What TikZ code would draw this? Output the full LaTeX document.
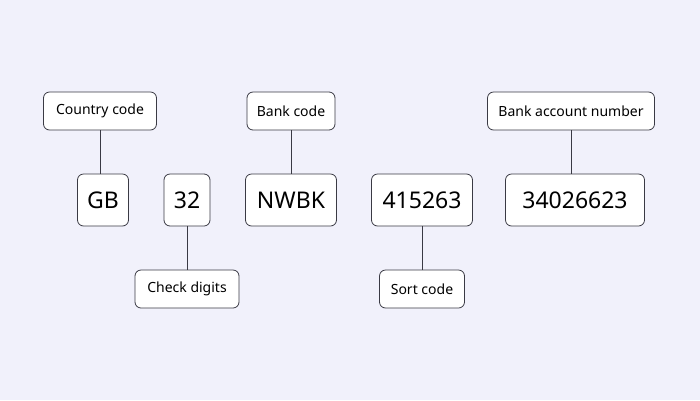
\documentclass[tikz,border=0pt]{standalone}
\usepackage{fontspec}
\setmainfont{Noto Sans}
\definecolor{bgcol}{HTML}{F1F1FB}
\definecolor{edgecol}{HTML}{3A3A44}
\tikzset{
  part/.style={draw=edgecol, fill=white, rounded corners=6pt, line width=0.8pt, minimum height=52pt, font=\fontsize{23}{26}\selectfont, text=black, inner xsep=8pt},
  tag/.style={draw=edgecol, fill=white, rounded corners=6pt, line width=0.8pt, minimum height=38pt, font=\fontsize{14}{16}\selectfont, text=black, inner xsep=8pt},
  link/.style={draw=edgecol, line width=0.8pt}
}
\begin{document}
\begin{tikzpicture}[x=1pt,y=-1pt]
  \fill[bgcol] (0,0) rectangle (700,400);
  \useasboundingbox (0,0) rectangle (700,400);
  % parts of the number
  \node[part, minimum width=51pt] (gb) at (103,200) {GB};
  \node[part, minimum width=46pt] (chk) at (187,200) {32};
  \node[part, minimum width=91pt] (bank) at (291,200) {NWBK};
  \node[part, minimum width=101pt] (sort) at (422,200) {415263};
  \node[part, minimum width=139pt] (acct) at (575,200) {34026623};
  % labels
  \node[tag, minimum width=113pt] (gbtag) at (100,111) {Country code};
  \node[tag, minimum width=104pt] (chktag) at (187,289) {Check digits};
  \node[tag, minimum width=88pt] (banktag) at (291,111) {Bank code};
  \node[tag, minimum width=85pt] (sorttag) at (422,289) {Sort code};
  \node[tag, minimum width=167pt] (accttag) at (571,111) {Bank account number};
  % connectors
  \draw[link] (gbtag.south) -- (gbtag.south |- gb.north);
  \draw[link] (chk.south) -- (chktag.north);
  \draw[link] (banktag.south) -- (bank.north);
  \draw[link] (sort.south) -- (sorttag.north);
  \draw[link] (accttag.south) -- (accttag.south |- acct.north);
\end{tikzpicture}
\end{document}
